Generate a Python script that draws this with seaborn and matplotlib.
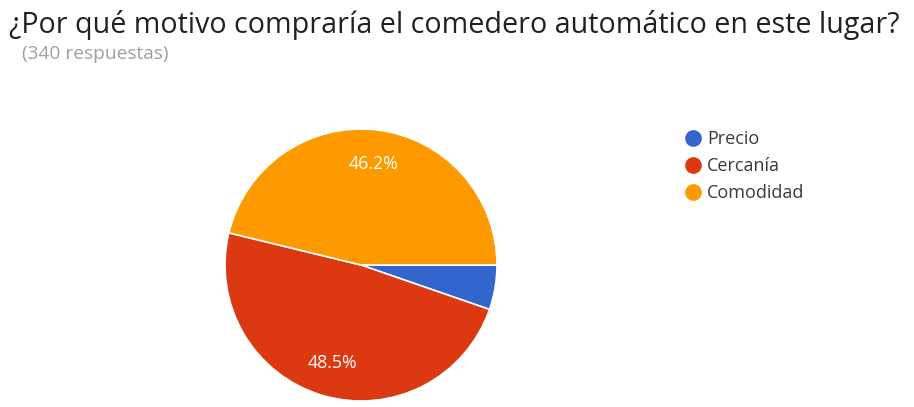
import matplotlib
matplotlib.use("Agg")
import matplotlib.pyplot as plt
from matplotlib.lines import Line2D
import seaborn as sns

sns.set_theme(style="white")
plt.rcParams["font.family"] = ["Open Sans", "DejaVu Sans"]

title = "¿Por qué motivo compraría el comedero automático en este lugar?"
subtitle = "(340 respuestas)"
categories = ["Precio", "Cercanía", "Comodidad"]
shares = [5.3, 48.5, 46.2]
colors = ["#3366CC", "#DC3912", "#FF9900"]

fig = plt.figure(figsize=(9.14, 4.07), dpi=100)
fig.patch.set_facecolor("white")

fig.text(9 / 914, 1 - 33 / 407, title, fontsize=20.6, color="#212121",
         va="baseline", ha="left")
fig.text(22 / 914, 1 - 59 / 407, subtitle, fontsize=13.8, color="#a0a0a0",
         va="baseline", ha="left")

ax = fig.add_axes([225 / 914, 6 / 407, 272 / 914, 272 / 407])


def pct_label(p):
    return f"{p:.1f}%" if p >= 10 else ""


wedges, _, autotexts = ax.pie(
    shares, colors=colors, startangle=0, counterclock=False,
    autopct=pct_label, pctdistance=0.75,
    wedgeprops=dict(edgecolor="white", linewidth=1.2),
    textprops=dict(color="white", fontsize=12.8),
)
ax.set_xlim(-1.0, 1.0)
ax.set_ylim(-1.0, 1.0)
ax.set_aspect("equal")

handles = [Line2D([0], [0], marker="o", linestyle="", markersize=11,
                  markerfacecolor=c, markeredgecolor=c) for c in colors]
fig.legend(handles, categories, loc="upper left",
           bbox_to_anchor=(677 / 914, 1 - 123 / 407), frameon=False,
           fontsize=13, labelcolor="#3a3a3a", handletextpad=0.25,
           labelspacing=0.5, borderaxespad=0, handlelength=1.0)

fig.savefig("out.png", dpi=100, facecolor="white")
